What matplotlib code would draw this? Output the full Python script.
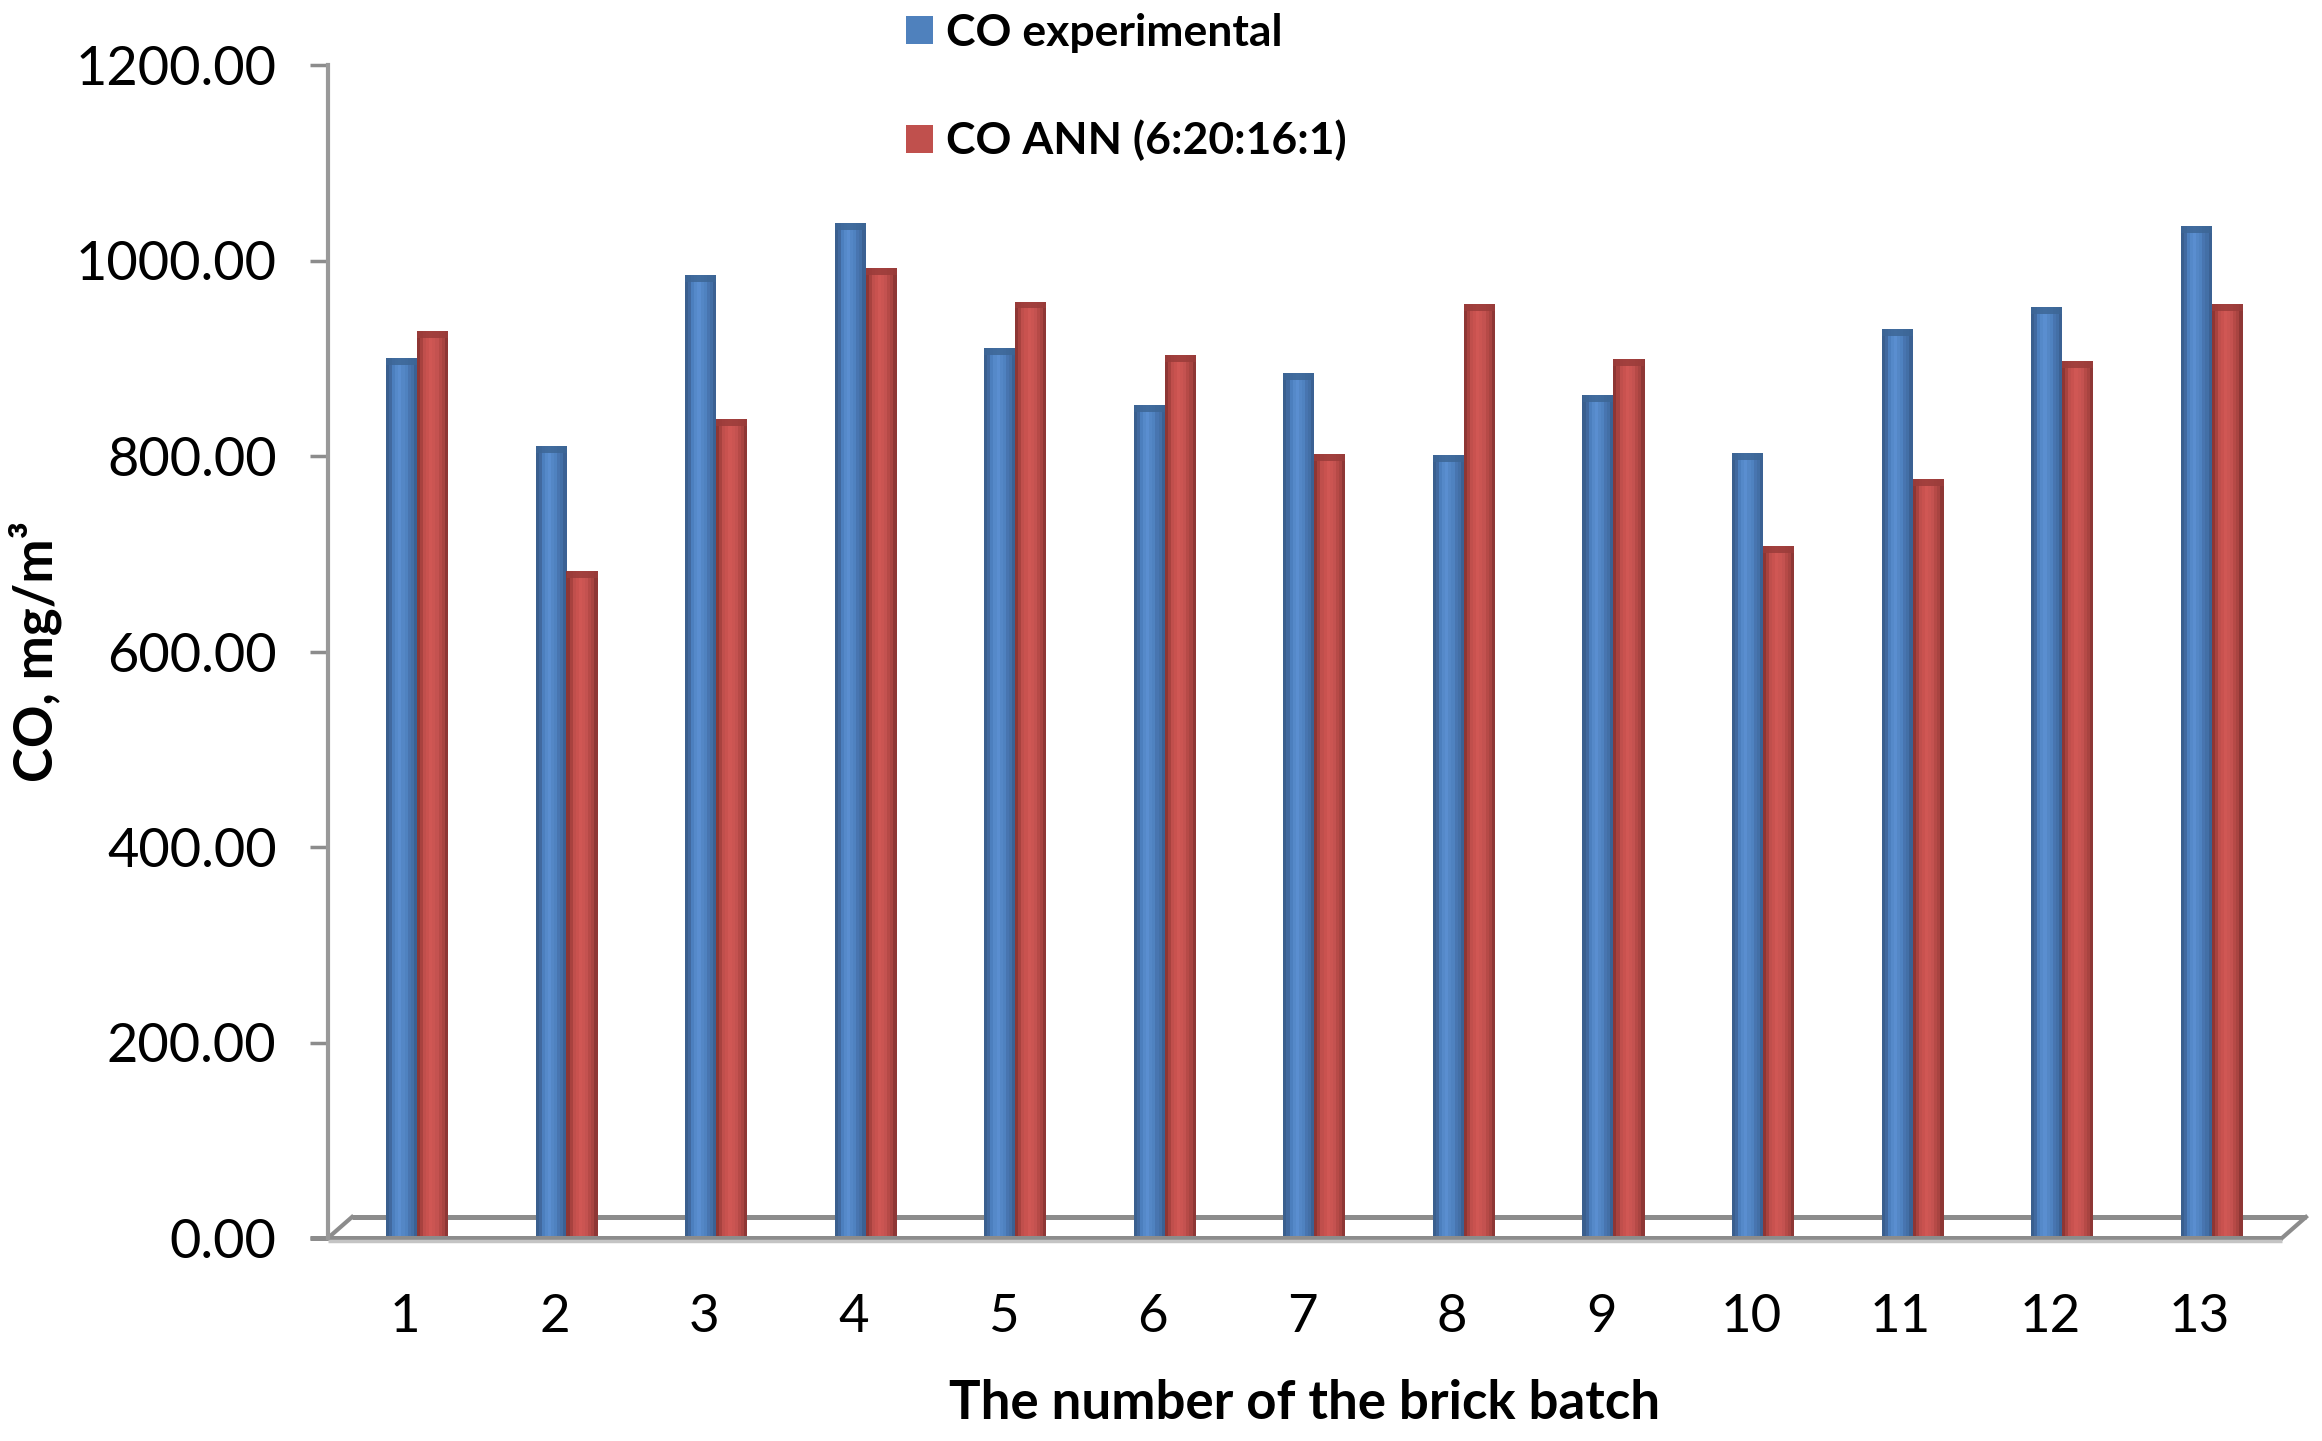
import numpy as np
import matplotlib
matplotlib.use("Agg")
import matplotlib.pyplot as plt
from matplotlib.patches import Patch

plt.rcParams['font.family'] = ['Lato', 'DejaVu Sans']

# ---- data ----
batches = [1, 2, 3, 4, 5, 6, 7, 8, 9, 10, 11, 12, 13]
co_experimental = [900, 810, 985, 1038, 910, 852, 885, 801, 862, 803, 930, 952, 1035]
co_ann = [928, 682, 838, 992, 958, 903, 802, 955, 899, 708, 776, 897, 955]
series_labels = ["CO experimental", "CO ANN (6:20:16:1)"]
yticks = [0, 200, 400, 600, 800, 1000, 1200]
xlabel = "The number of the brick batch"
ylabel = "CO, mg/m³"

W, H = 2322, 1441
fig = plt.figure(figsize=(W / 100, H / 100), dpi=100)
ax = fig.add_axes([328 / W, 1 - 1238 / H, (2282 - 328) / W, (1238 - 65) / H])
ax.set_xlim(0.485, 13.55)
ax.set_ylim(0, 1200)

gray = '#8c8c8c'

# shading profiles for cylinder-like bars
blue_prof = ['#3A5F8E', '#41699F', '#4C7FBE', '#5589C9', '#5A8ED0', '#5487C6', '#4F82C0', '#4875B0', '#436FA6', '#3B6193']
red_prof = ['#8E3634', '#A8423F', '#C04F4C', '#C9524F', '#D05754', '#CB5552', '#C45250', '#B64A47', '#A84441', '#8E3735']
cap_blue = '#3D6696'
cap_red = '#9A3C3A'

x = np.array(batches, dtype=float)
w = 0.207
shift = 0.08
cap_h = 7


def shaded_bars(centers, vals, prof, capcol):
    n = len(prof)
    vals = np.asarray(vals, dtype=float)
    for k, c in enumerate(prof):
        xs = centers - w / 2 + (k + 0.5) * w / n
        ax.bar(xs, vals, width=w / n * 1.05, color=c, linewidth=0, zorder=3)
    ax.bar(centers, np.full_like(vals, cap_h), bottom=vals - cap_h, width=w,
           color=capcol, linewidth=0, zorder=4, alpha=0.85)


shaded_bars(x + shift - w / 2, co_experimental, blue_prof, cap_blue)
shaded_bars(x + shift + w / 2, co_ann, red_prof, cap_red)

# ---- axes styling ----
for s in ['top', 'right', 'bottom']:
    ax.spines[s].set_visible(False)
ax.spines['left'].set_color('#999999')
ax.spines['left'].set_linewidth(3)
ax.spines['left'].set_zorder(5)

ax.set_yticks(yticks)
ax.set_yticklabels([f"{v:.2f}" for v in yticks], fontsize=39)
ax.tick_params(axis='y', direction='out', length=13, width=2.5, color=gray, pad=24)
ax.set_xticks(batches)
ax.set_xticklabels([str(b) for b in batches], fontsize=38)
ax.tick_params(axis='x', length=0, pad=40)

ax.set_xlabel(xlabel, fontsize=38, fontweight='bold', labelpad=28)
ax.set_ylabel(ylabel, fontsize=38, fontweight='bold', labelpad=10)

# ---- 3D floor outline (decoration) ----
dx_back = 24 / (2282 - 328)
dy_back = 21 / (1238 - 65)
tr = ax.transAxes
ax.plot([dx_back, 1 + dx_back], [dy_back, dy_back], color=gray, lw=3.6, transform=tr, clip_on=False, zorder=2, solid_capstyle='butt')
ax.plot([0, dx_back], [0, dy_back], color=gray, lw=3.0, transform=tr, clip_on=False, zorder=2)
ax.plot([1, 1 + dx_back], [0, dy_back], color=gray, lw=3.0, transform=tr, clip_on=False, zorder=2)
ax.plot([-18 / 1954, 1], [0, 0], color=gray, lw=3.6, transform=tr, clip_on=False, zorder=5, solid_capstyle='butt')
ax.plot([0, 1], [-3 / 1173, -3 / 1173], color='#c4c4c4', lw=2.5, transform=tr, clip_on=False, zorder=5, solid_capstyle='butt')

# ---- legend ----
handles = [Patch(facecolor='#4F81BD', edgecolor='none'), Patch(facecolor='#C0504D', edgecolor='none')]
leg = fig.legend(handles, series_labels, loc='upper left', bbox_to_anchor=(906 / W, 1 - 13 / H),
                 frameon=False, borderpad=0, borderaxespad=0, handlelength=0.6, handleheight=0.6,
                 handletextpad=0.3, labelspacing=1.5, prop={'size': 32, 'weight': 'bold'})

fig.savefig("out.png", dpi=100, facecolor='white')
